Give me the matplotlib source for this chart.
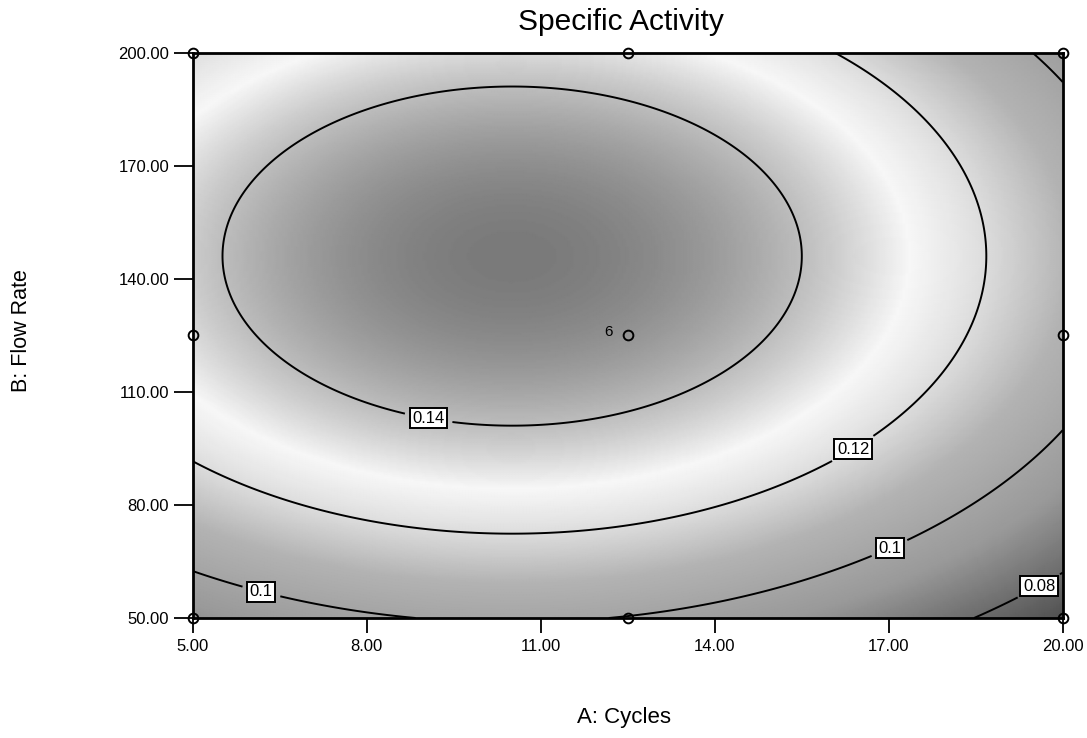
# Specific Activity response surface: contour plot over A (Cycles) and B (Flow Rate)
import numpy as np
import matplotlib.pyplot as plt
from matplotlib.colors import LinearSegmentedColormap

plt.rcParams['font.family'] = ['Liberation Sans', 'DejaVu Sans']

# fitted model, ln(Specific Activity) in coded factors
# terms: intercept, A, B, AB, A^2, B^2
model_terms = ['1', 'A', 'B', 'AB', 'A2', 'B2']
model_coefs = [-1.909, -0.110, 0.143, 0.0, -0.207, -0.255]

a_range = [5.0, 20.0]     # Cycles
b_range = [50.0, 200.0]   # Flow Rate

levels = [0.08, 0.10, 0.12, 0.14]
label_spots = [(9.1, 106), (16.3, 97), (6.2, 58), (17.0, 69), (19.5, 61)]

# design points (face-centred), centre point has 6 replicates
design_a = [5, 12.5, 20, 5, 20, 5, 12.5, 20, 12.5]
design_b = [50, 50, 50, 125, 125, 200, 200, 200, 125]
center_reps = 6

xticks = [5, 8, 11, 14, 17, 20]
yticks = [50, 80, 110, 140, 170, 200]


def predict(a, b):
    A = (a - np.mean(a_range)) / (np.diff(a_range)[0] / 2)
    B = (b - np.mean(b_range)) / (np.diff(b_range)[0] / 2)
    X = [np.ones_like(A), A, B, A * B, A ** 2, B ** 2]
    return np.exp(sum(c * x for c, x in zip(model_coefs, X)))


a = np.linspace(a_range[0], a_range[1], 300)
b = np.linspace(b_range[0], b_range[1], 300)
aa, bb = np.meshgrid(a, b)
zz = predict(aa, bb)

# grey rendering of the blue-green-yellow-red map
grey_stops = [(0.0, 0.32), (0.25, 0.60), (0.45, 0.70), (0.6, 0.88),
              (0.7, 0.97), (0.8, 0.80), (1.0, 0.48)]
cmap = LinearSegmentedColormap.from_list(
    'greys_de', [(p, (g, g, g)) for p, g in grey_stops])

fig = plt.figure(figsize=(10.87, 7.38), dpi=100)
ax = fig.add_axes([0.1773, 0.1626, 0.8004, 0.766])

ax.pcolormesh(aa, bb, zz, cmap=cmap, shading='gouraud',
              vmin=zz.min(), vmax=zz.max())
cs = ax.contour(aa, bb, zz, levels=levels, colors='black', linewidths=1.4)
labels = ax.clabel(cs, fmt=lambda v: f'{v:g}', fontsize=12,
                   manual=label_spots, inline=True, inline_spacing=8)
for t in labels:
    t.set_rotation(0)
    t.set_bbox(dict(facecolor='white', edgecolor='black', pad=1.8, lw=1.4))

ax.plot(design_a, design_b, 'o', ms=7, mfc='none', mec='black', mew=1.4,
        clip_on=False, zorder=5)
ax.text(12.17, 126, str(center_reps), fontsize=11, ha='center', va='center')

ax.set_xlim(a_range)
ax.set_ylim(b_range)
ax.set_xticks(xticks)
ax.set_yticks(yticks)
ax.set_xticklabels([f'{v:.2f}' for v in xticks], fontsize=12)
ax.set_yticklabels([f'{v:.2f}' for v in yticks], fontsize=12)
ax.tick_params(axis='x', direction='out', length=11, width=1.3, pad=4)
ax.tick_params(axis='y', direction='out', length=14, width=1.3, pad=3)
for s in ax.spines.values():
    s.set_linewidth(2)

fig.text(0.571, 0.970, 'Specific Activity', fontsize=21.5, ha='center', va='center')
fig.text(0.574, 0.014, 'A: Cycles', fontsize=16, ha='center', va='bottom')
fig.text(0.020, 0.552, 'B: Flow Rate', fontsize=15.5, rotation=90,
         ha='center', va='center')

plt.savefig('out.png', dpi=100)
